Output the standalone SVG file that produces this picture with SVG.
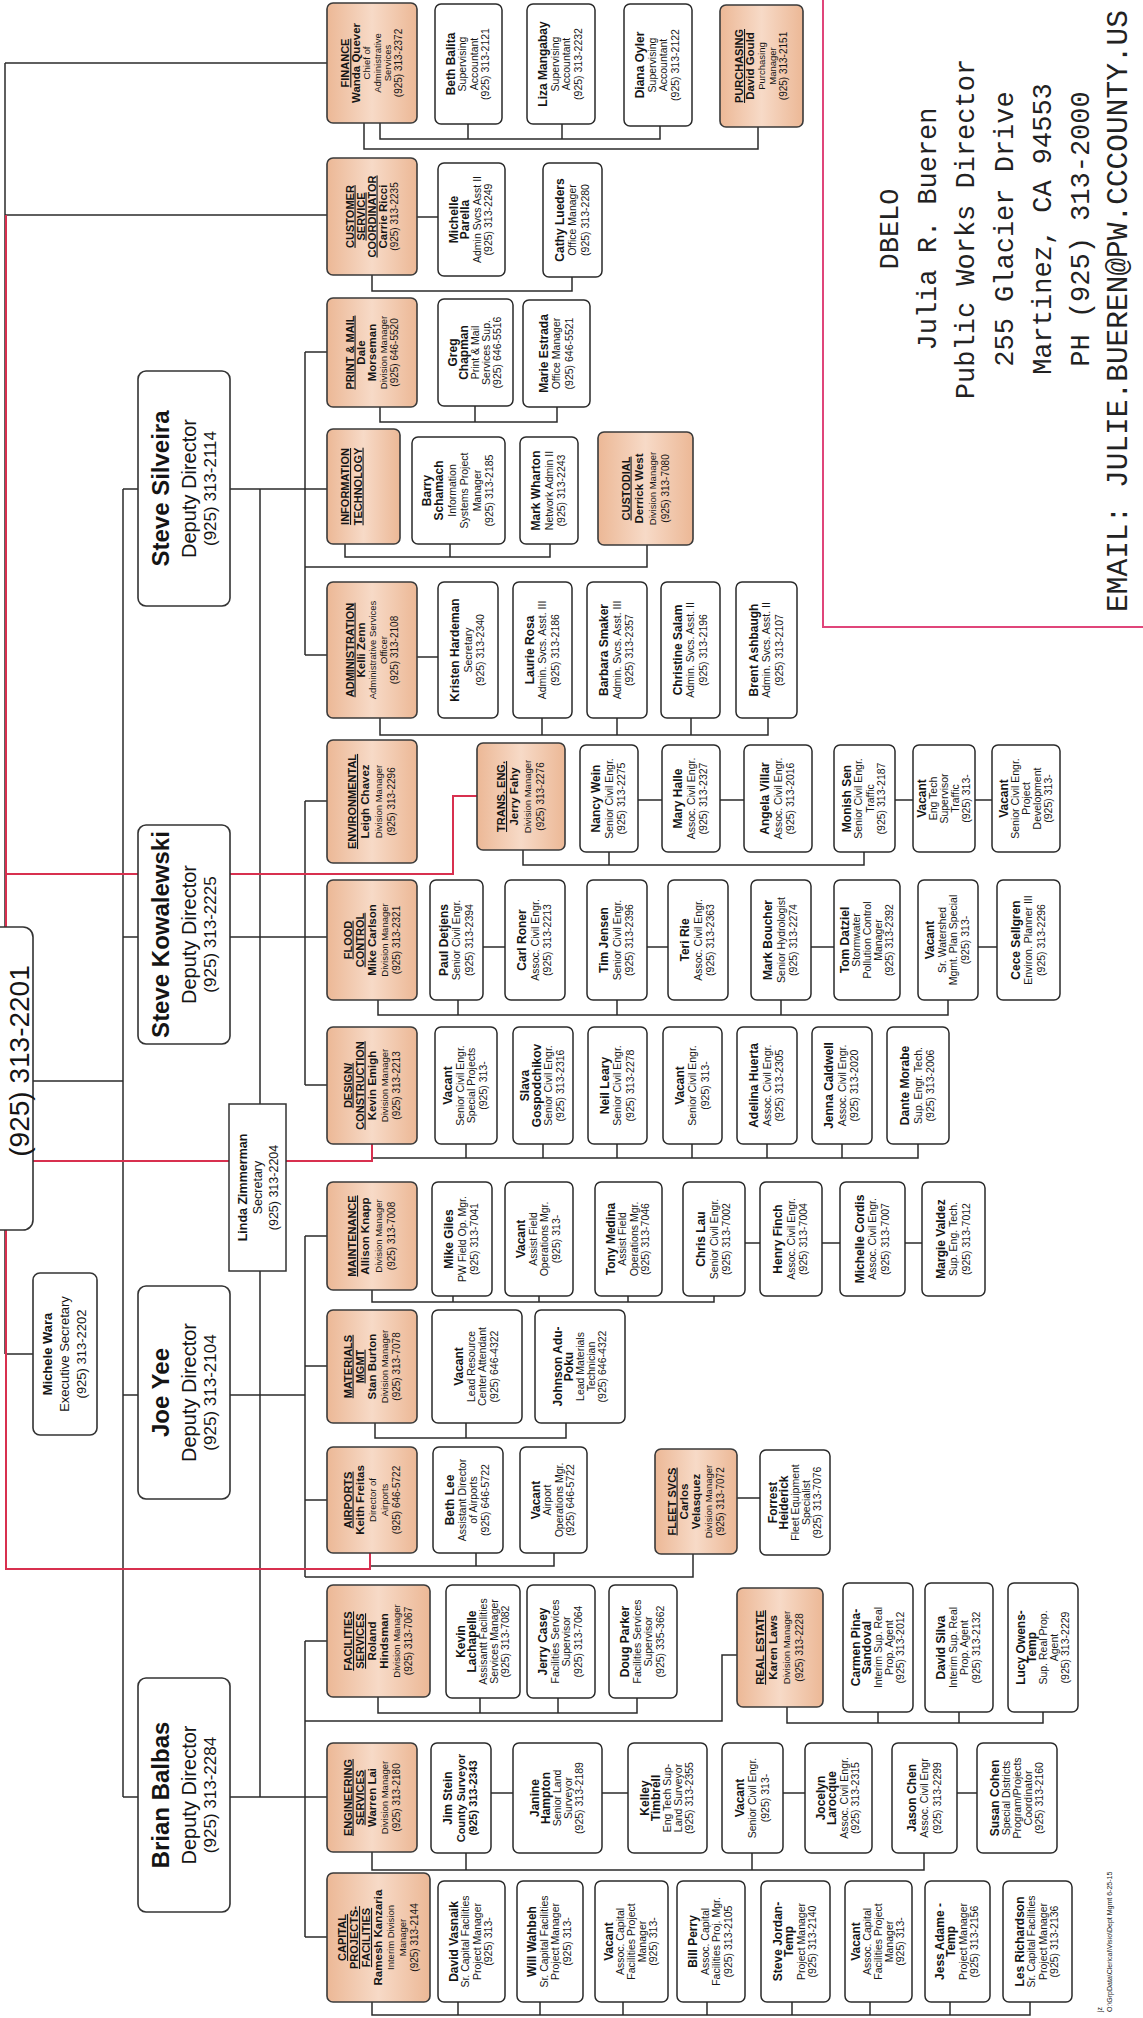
<svg xmlns="http://www.w3.org/2000/svg" width="1143" height="2018" viewBox="0 0 1143 2018">
<defs>
<linearGradient id="pg" x1="0" y1="0" x2="1" y2="0"><stop offset="0" stop-color="#ecb896"/><stop offset="0.5" stop-color="#f7dac7"/><stop offset="1" stop-color="#ecb896"/></linearGradient>
</defs>
<style>
text{font-family:"Liberation Sans",Arial,sans-serif;text-anchor:middle;fill:#151515}
.d{fill:url(#pg);stroke:#3a3a3a;stroke-width:1.6}
.s{fill:#fff;stroke:#2a2a2a;stroke-width:1.5}
.dep{fill:#fff;stroke:#333;stroke-width:1.6}
.l{fill:none;stroke:#2b2b2b;stroke-width:1.5}
.r{fill:none;stroke:#d8304f;stroke-width:2}
.t{font-weight:bold;font-size:11px;text-decoration:underline}
.n{font-weight:bold;font-size:11.5px}
.o{font-size:9.5px}
.p{font-size:10px}
.sn{font-weight:bold;font-size:12px}
.so{font-size:10.5px}
.dn{font-weight:bold;font-size:24px}
.dt{font-size:20px}
.dp{font-size:17px}
.mono{font-family:"Liberation Mono","Courier New",monospace;font-size:27px;fill:#222}
</style>
<rect width="1143" height="2018" fill="#fff"/>

<g id="connectors">
<path class="l" d="M5,63 V927 M5,1230 V1354 M5,63 H327 M5,215 H327 M5,1354 H33"/>
<path class="l" d="M33,1081 H123 M123,489 V1797 M123,489 H138 M123,937 H138 M123,1395 H138 M123,1797 H138 M260,489 V1797"/>
<path class="l" d="M230,489 H327 M305,352 V655 M305,352 H327 M305,655 H327"/>
<path class="l" d="M230,937 H327 M305,801 V1085 M305,801 H327 M305,1085 H327"/>
<path class="l" d="M230,1395 H305 M305,1236 V1577 M305,1236 H327 M305,1366 H327 M305,1500 H327"/>
<path class="l" d="M230,1797 H327 M305,1641 V1937 M305,1641 H327 M305,1937 H327"/>
<path class="l" d="M380,123 V139 H660 V126 M468,124 V139 M562,124 V139 M364,123 V149 H758 V127"/>
<path class="l" d="M372,275 V291 H572 V277 M417,217 H438"/>
<path class="l" d="M380,407 V422 H557 V407 M475,406 V422"/>
<path class="l" d="M345,544 V557 H550 V544 M450,544 V557 M305,567 H647 V545"/>
<path class="l" d="M417,657 H438 M380,718 V735 H768 V718 M542,718 V735 M617,718 V735 M691,718 V735"/>
<path class="l" d="M638,800 H662 M720,800 H744 M895,800 H913 M975,800 H992 M523,850 V865 H864 V852 M609,852 V865"/>
<path class="l" d="M483,947 H505 M647,947 H668 M811,947 H834 M978,947 H997 M378,1000 V1015 H948 V1000 M458,1000 V1015 M617,1000 V1015 M781,1000 V1015"/>
<path class="l" d="M372,1144 V1158 H918 V1144 M466,1144 V1158 M543,1144 V1158 M617,1144 V1158 M692,1144 V1158 M767,1144 V1158 M842,1144 V1158"/>
<path class="l" d="M372,1290 V1302 H714 V1296 M453,1296 V1302 M539,1296 V1302 M628,1296 V1302 M745,1243 H760 M822,1243 H840 M905,1243 H922"/>
<path class="l" d="M375,1423 V1438 H566 V1423 M466,1423 V1438"/>
<path class="l" d="M370,1553 V1566 H554 V1553 M476,1553 V1566 M305,1577 H693 V1554 M737,1498 H760"/>
<path class="l" d="M378,1697 V1713 H637 V1698 M480,1698 V1713 M558,1698 V1713 M305,1721 H722 V1655 H737 M787,1707 V1723 H1043 V1712 M878,1712 V1723 M959,1712 V1723"/>
<path class="l" d="M491,1793 H513 M602,1793 H628 M783,1793 H805 M957,1793 H977 M372,1852 V1870 H924 V1853 M466,1853 V1870 M752,1853 V1870"/>
<path class="l" d="M372,2002 V2015 H1030 V2002 M458,2002 V2015 M540,2002 V2015 M623,2002 V2015 M707,2002 V2015 M792,2002 V2015 M870,2002 V2015 M950,2002 V2015"/>
<path class="r" d="M6,927 V215 M6,874 H453 V796 H477 M33,1161 H372 V1144 M6,1230 V1569 H370 V1553"/>
</g>

<g id="director"><rect class="dep" x="-20" y="927" width="53" height="303" rx="10"/>
<text transform="translate(19,1061) rotate(-90)" y="10" style="font-size:28px">(925) 313-2201</text></g>

<g id="michele-wara"><rect class="dep" x="33" y="1273" width="64" height="162" rx="7"/>
<text transform="translate(65,1354) rotate(-90)" style="font-size:13px"><tspan x="0" y="-13" font-weight="bold">Michele Wara</tspan><tspan x="0" y="4">Executive Secretary</tspan><tspan x="0" y="21">(925) 313-2202</tspan></text></g>

<g id="steve-silveira"><rect class="dep" x="138" y="371" width="92" height="235" rx="8"/>
<text transform="translate(184,488.5) rotate(-90)"><tspan class="dn" x="0" y="-14.6">Steve Silveira</tspan><tspan class="dt" x="0" y="12">Deputy Director</tspan><tspan class="dp" x="0" y="32">(925) 313-2114</tspan></text></g>
<g id="steve-kowalewski"><rect class="dep" x="138" y="825" width="92" height="219" rx="8"/>
<text transform="translate(184,934.5) rotate(-90)"><tspan class="dn" x="0" y="-14.6">Steve Kowalewski</tspan><tspan class="dt" x="0" y="12">Deputy Director</tspan><tspan class="dp" x="0" y="32">(925) 313-2225</tspan></text></g>
<g id="joe-yee"><rect class="dep" x="138" y="1286" width="92" height="213" rx="8"/>
<text transform="translate(184,1392.5) rotate(-90)"><tspan class="dn" x="0" y="-14.6">Joe Yee</tspan><tspan class="dt" x="0" y="12">Deputy Director</tspan><tspan class="dp" x="0" y="32">(925) 313-2104</tspan></text></g>
<g id="brian-balbas"><rect class="dep" x="138" y="1678" width="92" height="234" rx="8"/>
<text transform="translate(184,1795) rotate(-90)"><tspan class="dn" x="0" y="-14.6">Brian Balbas</tspan><tspan class="dt" x="0" y="12">Deputy Director</tspan><tspan class="dp" x="0" y="32">(925) 313-2284</tspan></text></g>

<g id="linda-zimmerman"><rect x="229" y="1104" width="57" height="167" fill="#fff" stroke="#333" stroke-width="1.5"/>
<text transform="translate(257.5,1187.5) rotate(-90)" style="font-size:12.5px"><tspan x="0" y="-11" font-weight="bold">Linda Zimmerman</tspan><tspan x="0" y="4.5">Secretary</tspan><tspan x="0" y="20">(925) 313-2204</tspan></text></g>

<!-- Finance -->
<g id="finance"><rect class="d" x="327" y="3" width="90" height="120" rx="6"/>
<text transform="translate(372,63) rotate(-90)"><tspan class="t" x="0" y="-22.75">FINANCE</tspan><tspan class="n" x="0" y="-12.25">Wanda Quever</tspan><tspan class="o" x="0" y="-1.75">Chief of</tspan><tspan class="o" x="0" y="8.75">Administrative</tspan><tspan class="o" x="0" y="19.25">Services</tspan><tspan class="p" x="0" y="29.75">(925) 313-2372</tspan></text></g>
<g id="beth-balita"><rect class="s" x="435" y="4" width="67" height="120" rx="6"/>
<text transform="translate(468.5,64) rotate(-90)"><tspan class="sn" x="0" y="-13.75">Beth Balita</tspan><tspan class="so" x="0" y="-2.25">Supervising</tspan><tspan class="so" x="0" y="9.25">Accountant</tspan><tspan class="so" x="0" y="20.75">(925) 313-2121</tspan></text></g>
<g id="liza-mangabay"><rect class="s" x="527" y="4" width="68" height="120" rx="6"/>
<text transform="translate(561,64) rotate(-90)"><tspan class="sn" x="0" y="-13.75">Liza Mangabay</tspan><tspan class="so" x="0" y="-2.25">Supervising</tspan><tspan class="so" x="0" y="9.25">Accountant</tspan><tspan class="so" x="0" y="20.75">(925) 313-2232</tspan></text></g>
<g id="diana-oyler"><rect class="s" x="624" y="4" width="68" height="122" rx="6"/>
<text transform="translate(658,65) rotate(-90)"><tspan class="sn" x="0" y="-13.75">Diana Oyler</tspan><tspan class="so" x="0" y="-2.25">Supervising</tspan><tspan class="so" x="0" y="9.25">Accountant</tspan><tspan class="so" x="0" y="20.75">(925) 313-2122</tspan></text></g>
<g id="purchasing"><rect class="d" x="720" y="5" width="83" height="122" rx="6"/>
<text transform="translate(761.5,66) rotate(-90)"><tspan class="t" x="0" y="-18.5">PURCHASING</tspan><tspan class="n" x="0" y="-7.5">David Gould</tspan><tspan class="o" x="0" y="3.5">Purchasing</tspan><tspan class="o" x="0" y="14.5">Manager</tspan><tspan class="p" x="0" y="25.5">(925) 313-2151</tspan></text></g>

<!-- Customer service -->
<g id="customer-service"><rect class="d" x="327" y="158" width="90" height="117" rx="6"/>
<text transform="translate(372,216.5) rotate(-90)"><tspan class="t" x="0" y="-18.5">CUSTOMER</tspan><tspan class="t" x="0" y="-7.5">SERVICE</tspan><tspan class="t" x="0" y="3.5">COORDINATOR</tspan><tspan class="n" x="0" y="14.5">Carrie Ricci</tspan><tspan class="p" x="0" y="25.5">(925) 313-2235</tspan></text></g>
<g id="michelle-parella"><rect class="s" x="438" y="163" width="67" height="113" rx="6"/>
<text transform="translate(471.5,219.5) rotate(-90)"><tspan class="sn" x="0" y="-13.75">Michelle</tspan><tspan class="sn" x="0" y="-2.25">Parella</tspan><tspan class="so" x="0" y="9.25">Admin Svcs Asst II</tspan><tspan class="so" x="0" y="20.75">(925) 313-2249</tspan></text></g>
<g id="cathy-lueders"><rect class="s" x="543" y="163" width="59" height="114" rx="6"/>
<text transform="translate(572.5,220) rotate(-90)"><tspan class="sn" x="0" y="-9">Cathy Lueders</tspan><tspan class="so" x="0" y="3.5">Office Manager</tspan><tspan class="so" x="0" y="16">(925) 313-2280</tspan></text></g>

<!-- Print & Mail -->
<g id="print-mail"><rect class="d" x="327" y="298" width="90" height="109" rx="6"/>
<text transform="translate(372,352.5) rotate(-90)"><tspan class="t" x="0" y="-18.5">PRINT &amp; MAIL</tspan><tspan class="n" x="0" y="-7.5">Dale</tspan><tspan class="n" x="0" y="3.5">Morseman</tspan><tspan class="o" x="0" y="14.5">Division Manager</tspan><tspan class="p" x="0" y="25.5">(925) 646-5520</tspan></text></g>
<g id="greg-chapman"><rect class="s" x="438" y="299" width="75" height="107" rx="6"/>
<text transform="translate(475.5,352.5) rotate(-90)"><tspan class="sn" x="0" y="-18.5">Greg</tspan><tspan class="sn" x="0" y="-7.5">Chapman</tspan><tspan class="so" x="0" y="3.5">Print &amp; Mail</tspan><tspan class="so" x="0" y="14.5">Services Sup.</tspan><tspan class="so" x="0" y="25.5">(925) 646-5516</tspan></text></g>
<g id="marie-estrada"><rect class="s" x="523" y="300" width="67" height="107" rx="6"/>
<text transform="translate(556.5,353.5) rotate(-90)"><tspan class="sn" x="0" y="-9">Marie Estrada</tspan><tspan class="so" x="0" y="3.5">Office Manager</tspan><tspan class="so" x="0" y="16">(925) 646-5521</tspan></text></g>

<!-- IT -->
<g id="information-technology"><rect class="d" x="327" y="429" width="73" height="115" rx="6"/>
<text transform="translate(363.5,486.5) rotate(-90)"><tspan class="t" x="0" y="-14.5">INFORMATION</tspan><tspan class="t" x="0" y="-2">TECHNOLOGY</tspan></text></g>
<g id="barry-schamach"><rect class="s" x="412" y="437" width="93" height="107" rx="6"/>
<text transform="translate(458.5,490.5) rotate(-90)"><tspan class="sn" x="0" y="-27.75">Barry</tspan><tspan class="sn" x="0" y="-15.25">Schamach</tspan><tspan class="so" x="0" y="-2.75">Information</tspan><tspan class="so" x="0" y="9.75">Systems Project</tspan><tspan class="so" x="0" y="22.25">Manager</tspan><tspan class="so" x="0" y="34.75">(925) 313-2185</tspan></text></g>
<g id="mark-wharton"><rect class="s" x="520" y="437" width="58" height="107" rx="6"/>
<text transform="translate(549,490.5) rotate(-90)"><tspan class="sn" x="0" y="-9">Mark Wharton</tspan><tspan class="so" x="0" y="3.5">Network Admin II</tspan><tspan class="so" x="0" y="16">(925) 313-2243</tspan></text></g>
<g id="custodial"><rect class="d" x="598" y="432" width="95" height="113" rx="6"/>
<text transform="translate(645.5,488.5) rotate(-90)"><tspan class="t" x="0" y="-16">CUSTODIAL</tspan><tspan class="n" x="0" y="-3">Derrick West</tspan><tspan class="o" x="0" y="10">Division Manager</tspan><tspan class="p" x="0" y="23">(925) 313-7080</tspan></text></g>

<!-- Administration -->
<g id="administration"><rect class="d" x="327" y="582" width="90" height="136" rx="6"/>
<text transform="translate(372,650) rotate(-90)"><tspan class="t" x="0" y="-18.5">ADMINISTRATION</tspan><tspan class="n" x="0" y="-7.5">Kelli Zenn</tspan><tspan class="o" x="0" y="3.5">Administrative Services</tspan><tspan class="o" x="0" y="14.5">Officer</tspan><tspan class="p" x="0" y="25.5">(925) 313-2108</tspan></text></g>
<g id="kristen-hardeman"><rect class="s" x="438" y="582" width="60" height="136" rx="6"/>
<text transform="translate(468,650) rotate(-90)"><tspan class="sn" x="0" y="-9">Kristen Hardeman</tspan><tspan class="so" x="0" y="3.5">Secretary</tspan><tspan class="so" x="0" y="16">(925) 313-2340</tspan></text></g>
<g id="laurie-rosa"><rect class="s" x="513" y="582" width="59" height="136" rx="6"/>
<text transform="translate(542.5,650) rotate(-90)"><tspan class="sn" x="0" y="-9">Laurie Rosa</tspan><tspan class="so" x="0" y="3.5">Admin. Svcs. Asst. III</tspan><tspan class="so" x="0" y="16">(925) 313-2186</tspan></text></g>
<g id="barbara-smaker"><rect class="s" x="587" y="582" width="60" height="136" rx="6"/>
<text transform="translate(617,650) rotate(-90)"><tspan class="sn" x="0" y="-9">Barbara Smaker</tspan><tspan class="so" x="0" y="3.5">Admin. Svcs. Asst. III</tspan><tspan class="so" x="0" y="16">(925) 313-2357</tspan></text></g>
<g id="christine-salam"><rect class="s" x="661" y="582" width="59" height="136" rx="6"/>
<text transform="translate(690.5,650) rotate(-90)"><tspan class="sn" x="0" y="-9">Christine Salam</tspan><tspan class="so" x="0" y="3.5">Admin. Svcs. Asst. II</tspan><tspan class="so" x="0" y="16">(925) 313-2196</tspan></text></g>
<g id="brent-ashbaugh"><rect class="s" x="736" y="582" width="61" height="136" rx="6"/>
<text transform="translate(766.5,650) rotate(-90)"><tspan class="sn" x="0" y="-9">Brent Ashbaugh</tspan><tspan class="so" x="0" y="3.5">Admin. Svcs. Asst. II</tspan><tspan class="so" x="0" y="16">(925) 313-2107</tspan></text></g>

<!-- Environmental / Trans Eng -->
<g id="environmental"><rect class="d" x="327" y="740" width="90" height="123" rx="6"/>
<text transform="translate(372,801.5) rotate(-90)"><tspan class="t" x="0" y="-16">ENVIRONMENTAL</tspan><tspan class="n" x="0" y="-3">Leigh Chavez</tspan><tspan class="o" x="0" y="10">Division Manager</tspan><tspan class="p" x="0" y="23">(925) 313-2296</tspan></text></g>
<g id="trans-eng"><rect class="d" x="477" y="743" width="88" height="107" rx="6"/>
<text transform="translate(521,796.5) rotate(-90)"><tspan class="t" x="0" y="-16">TRANS. ENG.</tspan><tspan class="n" x="0" y="-3">Jerry Fahy</tspan><tspan class="o" x="0" y="10">Division Manager</tspan><tspan class="p" x="0" y="23">(925) 313-2276</tspan></text></g>
<g id="nancy-wein"><rect class="s" x="580" y="745" width="58" height="107" rx="6"/>
<text transform="translate(609,798.5) rotate(-90)"><tspan class="sn" x="0" y="-9">Nancy Wein</tspan><tspan class="so" x="0" y="3.5">Senior Civil Engr.</tspan><tspan class="so" x="0" y="16">(925) 313-2275</tspan></text></g>
<g id="mary-halle"><rect class="s" x="662" y="745" width="58" height="107" rx="6"/>
<text transform="translate(691,798.5) rotate(-90)"><tspan class="sn" x="0" y="-9">Mary Halle</tspan><tspan class="so" x="0" y="3.5">Assoc. Civil Engr.</tspan><tspan class="so" x="0" y="16">(925) 313-2327</tspan></text></g>
<g id="angela-villar"><rect class="s" x="744" y="745" width="68" height="107" rx="6"/>
<text transform="translate(778,798.5) rotate(-90)"><tspan class="sn" x="0" y="-9">Angela Villar</tspan><tspan class="so" x="0" y="3.5">Assoc. Civil Engr.</tspan><tspan class="so" x="0" y="16">(925) 313-2016</tspan></text></g>
<g id="monish-sen"><rect class="s" x="834" y="745" width="61" height="107" rx="6"/>
<text transform="translate(864.5,798.5) rotate(-90)"><tspan class="sn" x="0" y="-13.75">Monish Sen</tspan><tspan class="so" x="0" y="-2.25">Senior Civil Engr.</tspan><tspan class="so" x="0" y="9.25">Traffic</tspan><tspan class="so" x="0" y="20.75">(925) 313-2187</tspan></text></g>
<g id="vacant-eng-tech"><rect class="s" x="913" y="745" width="62" height="107" rx="6"/>
<text transform="translate(944,798.5) rotate(-90)"><tspan class="sn" x="0" y="-18.5">Vacant</tspan><tspan class="so" x="0" y="-7.5">Eng Tech</tspan><tspan class="so" x="0" y="3.5">Supervisor</tspan><tspan class="so" x="0" y="14.5">Traffic</tspan><tspan class="so" x="0" y="25.5">(925) 313-</tspan></text></g>
<g id="vacant-proj-dev"><rect class="s" x="992" y="745" width="68" height="107" rx="6"/>
<text transform="translate(1026,798.5) rotate(-90)"><tspan class="sn" x="0" y="-18.5">Vacant</tspan><tspan class="so" x="0" y="-7.5">Senior Civil Engr.</tspan><tspan class="so" x="0" y="3.5">Project</tspan><tspan class="so" x="0" y="14.5">Development</tspan><tspan class="so" x="0" y="25.5">(925) 313-</tspan></text></g>

<!-- Flood control -->
<g id="flood-control"><rect class="d" x="327" y="880" width="90" height="120" rx="6"/>
<text transform="translate(372,940) rotate(-90)"><tspan class="t" x="0" y="-20.5">FLOOD</tspan><tspan class="t" x="0" y="-8.5">CONTROL</tspan><tspan class="n" x="0" y="3.5">Mike Carlson</tspan><tspan class="o" x="0" y="15.5">Division Manager</tspan><tspan class="p" x="0" y="27.5">(925) 313-2321</tspan></text></g>
<g id="paul-detjens"><rect class="s" x="430" y="880" width="53" height="120" rx="6"/>
<text transform="translate(456.5,940) rotate(-90)"><tspan class="sn" x="0" y="-9">Paul Detjens</tspan><tspan class="so" x="0" y="3.5">Senior Civil Engr.</tspan><tspan class="so" x="0" y="16">(925) 313-2394</tspan></text></g>
<g id="carl-roner"><rect class="s" x="505" y="880" width="60" height="120" rx="6"/>
<text transform="translate(535,940) rotate(-90)"><tspan class="sn" x="0" y="-9">Carl Roner</tspan><tspan class="so" x="0" y="3.5">Assoc. Civil Engr.</tspan><tspan class="so" x="0" y="16">(925) 313-2213</tspan></text></g>
<g id="tim-jensen"><rect class="s" x="587" y="880" width="60" height="120" rx="6"/>
<text transform="translate(617,940) rotate(-90)"><tspan class="sn" x="0" y="-9">Tim Jensen</tspan><tspan class="so" x="0" y="3.5">Senior Civil Engr.</tspan><tspan class="so" x="0" y="16">(925) 313-2396</tspan></text></g>
<g id="teri-rie"><rect class="s" x="668" y="880" width="60" height="120" rx="6"/>
<text transform="translate(698,940) rotate(-90)"><tspan class="sn" x="0" y="-9">Teri Rie</tspan><tspan class="so" x="0" y="3.5">Assoc. Civil Engr.</tspan><tspan class="so" x="0" y="16">(925) 313-2363</tspan></text></g>
<g id="mark-boucher"><rect class="s" x="751" y="880" width="60" height="120" rx="6"/>
<text transform="translate(781,940) rotate(-90)"><tspan class="sn" x="0" y="-9">Mark Boucher</tspan><tspan class="so" x="0" y="3.5">Senior Hydrologist</tspan><tspan class="so" x="0" y="16">(925) 313-2274</tspan></text></g>
<g id="tom-datziel"><rect class="s" x="834" y="880" width="66" height="120" rx="6"/>
<text transform="translate(867,940) rotate(-90)"><tspan class="sn" x="0" y="-18.5">Tom Datziel</tspan><tspan class="so" x="0" y="-7.5">Stormwater</tspan><tspan class="so" x="0" y="3.5">Pollution Control</tspan><tspan class="so" x="0" y="14.5">Manager</tspan><tspan class="so" x="0" y="25.5">(925) 313-2392</tspan></text></g>
<g id="vacant-watershed"><rect class="s" x="918" y="880" width="60" height="120" rx="6"/>
<text transform="translate(948,940) rotate(-90)"><tspan class="sn" x="0" y="-13.75">Vacant</tspan><tspan class="so" x="0" y="-2.25">Sr. Watershed</tspan><tspan class="so" x="0" y="9.25">Mgmt. Plan Special</tspan><tspan class="so" x="0" y="20.75">(925) 313-</tspan></text></g>
<g id="cece-sellgren"><rect class="s" x="997" y="880" width="63" height="120" rx="6"/>
<text transform="translate(1028.5,940) rotate(-90)"><tspan class="sn" x="0" y="-9">Cece Sellgren</tspan><tspan class="so" x="0" y="3.5">Environ. Planner III</tspan><tspan class="so" x="0" y="16">(925) 313-2296</tspan></text></g>

<!-- Design / Construction -->
<g id="design-construction"><rect class="d" x="327" y="1027" width="90" height="117" rx="6"/>
<text transform="translate(372,1085.5) rotate(-90)"><tspan class="t" x="0" y="-20.5">DESIGN/</tspan><tspan class="t" x="0" y="-8.5">CONSTRUCTION</tspan><tspan class="n" x="0" y="3.5">Kevin Emigh</tspan><tspan class="o" x="0" y="15.5">Division Manager</tspan><tspan class="p" x="0" y="27.5">(925) 313-2213</tspan></text></g>
<g id="vacant-special"><rect class="s" x="435" y="1027" width="62" height="117" rx="6"/>
<text transform="translate(466,1085.5) rotate(-90)"><tspan class="sn" x="0" y="-13.75">Vacant</tspan><tspan class="so" x="0" y="-2.25">Senior Civil Engr.</tspan><tspan class="so" x="0" y="9.25">Special Projects</tspan><tspan class="so" x="0" y="20.75">(925) 313-</tspan></text></g>
<g id="slava-gospodchikov"><rect class="s" x="513" y="1027" width="60" height="117" rx="6"/>
<text transform="translate(543,1085.5) rotate(-90)"><tspan class="sn" x="0" y="-13.75">Slava</tspan><tspan class="sn" x="0" y="-2.25">Gospodchikov</tspan><tspan class="so" x="0" y="9.25">Senior Civil Engr.</tspan><tspan class="so" x="0" y="20.75">(925) 313-2316</tspan></text></g>
<g id="neil-leary"><rect class="s" x="588" y="1027" width="59" height="117" rx="6"/>
<text transform="translate(617.5,1085.5) rotate(-90)"><tspan class="sn" x="0" y="-9">Neil Leary</tspan><tspan class="so" x="0" y="3.5">Senior Civil Engr.</tspan><tspan class="so" x="0" y="16">(925) 313-2278</tspan></text></g>
<g id="vacant-sce"><rect class="s" x="663" y="1027" width="59" height="117" rx="6"/>
<text transform="translate(692.5,1085.5) rotate(-90)"><tspan class="sn" x="0" y="-9">Vacant</tspan><tspan class="so" x="0" y="3.5">Senior Civil Engr.</tspan><tspan class="so" x="0" y="16">(925) 313-</tspan></text></g>
<g id="adelina-huerta"><rect class="s" x="737" y="1027" width="60" height="117" rx="6"/>
<text transform="translate(767,1085.5) rotate(-90)"><tspan class="sn" x="0" y="-9">Adelina Huerta</tspan><tspan class="so" x="0" y="3.5">Assoc. Civil Engr.</tspan><tspan class="so" x="0" y="16">(925) 313-2305</tspan></text></g>
<g id="jenna-caldwell"><rect class="s" x="812" y="1027" width="60" height="117" rx="6"/>
<text transform="translate(842,1085.5) rotate(-90)"><tspan class="sn" x="0" y="-9">Jenna Caldwell</tspan><tspan class="so" x="0" y="3.5">Assoc. Civil Engr.</tspan><tspan class="so" x="0" y="16">(925) 313-2020</tspan></text></g>
<g id="dante-morabe"><rect class="s" x="887" y="1027" width="62" height="117" rx="6"/>
<text transform="translate(918,1085.5) rotate(-90)"><tspan class="sn" x="0" y="-9">Dante Morabe</tspan><tspan class="so" x="0" y="3.5">Sup. Engr. Tech.</tspan><tspan class="so" x="0" y="16">(925) 313-2006</tspan></text></g>

<!-- Maintenance -->
<g id="maintenance"><rect class="d" x="327" y="1182" width="90" height="108" rx="6"/>
<text transform="translate(372,1236) rotate(-90)"><tspan class="t" x="0" y="-16">MAINTENANCE</tspan><tspan class="n" x="0" y="-3">Allison Knapp</tspan><tspan class="o" x="0" y="10">Division Manager</tspan><tspan class="p" x="0" y="23">(925) 313-7008</tspan></text></g>
<g id="mike-giles"><rect class="s" x="432" y="1182" width="60" height="114" rx="6"/>
<text transform="translate(462,1239) rotate(-90)"><tspan class="sn" x="0" y="-9">Mike Giles</tspan><tspan class="so" x="0" y="3.5">PW Field Op. Mgr.</tspan><tspan class="so" x="0" y="16">(925) 313-7041</tspan></text></g>
<g id="vacant-afom"><rect class="s" x="505" y="1182" width="68" height="114" rx="6"/>
<text transform="translate(539,1239) rotate(-90)"><tspan class="sn" x="0" y="-13.75">Vacant</tspan><tspan class="so" x="0" y="-2.25">Assist Field</tspan><tspan class="so" x="0" y="9.25">Operations Mgr.</tspan><tspan class="so" x="0" y="20.75">(925) 313-</tspan></text></g>
<g id="tony-medina"><rect class="s" x="595" y="1182" width="67" height="114" rx="6"/>
<text transform="translate(628.5,1239) rotate(-90)"><tspan class="sn" x="0" y="-13.75">Tony Medina</tspan><tspan class="so" x="0" y="-2.25">Assist Field</tspan><tspan class="so" x="0" y="9.25">Operations Mgr.</tspan><tspan class="so" x="0" y="20.75">(925) 313-7046</tspan></text></g>
<g id="chris-lau"><rect class="s" x="683" y="1182" width="62" height="114" rx="6"/>
<text transform="translate(714,1239) rotate(-90)"><tspan class="sn" x="0" y="-9">Chris Lau</tspan><tspan class="so" x="0" y="3.5">Senior Civil Engr.</tspan><tspan class="so" x="0" y="16">(925) 313-7002</tspan></text></g>
<g id="henry-finch"><rect class="s" x="760" y="1182" width="62" height="114" rx="6"/>
<text transform="translate(791,1239) rotate(-90)"><tspan class="sn" x="0" y="-9">Henry Finch</tspan><tspan class="so" x="0" y="3.5">Assoc. Civil Engr.</tspan><tspan class="so" x="0" y="16">(925) 313-7004</tspan></text></g>
<g id="michelle-cordis"><rect class="s" x="840" y="1182" width="65" height="114" rx="6"/>
<text transform="translate(872.5,1239) rotate(-90)"><tspan class="sn" x="0" y="-9">Michelle Cordis</tspan><tspan class="so" x="0" y="3.5">Assoc. Civil Engr.</tspan><tspan class="so" x="0" y="16">(925) 313-7007</tspan></text></g>
<g id="margie-valdez"><rect class="s" x="922" y="1182" width="63" height="114" rx="6"/>
<text transform="translate(953.5,1239) rotate(-90)"><tspan class="sn" x="0" y="-9">Margie Valdez</tspan><tspan class="so" x="0" y="3.5">Sup. Eng. Tech.</tspan><tspan class="so" x="0" y="16">(925) 313-7012</tspan></text></g>

<!-- Materials -->
<g id="materials-mgmt"><rect class="d" x="327" y="1310" width="90" height="113" rx="6"/>
<text transform="translate(372,1366.5) rotate(-90)"><tspan class="t" x="0" y="-20.5">MATERIALS</tspan><tspan class="t" x="0" y="-8.5">MGMT</tspan><tspan class="n" x="0" y="3.5">Stan Burton</tspan><tspan class="o" x="0" y="15.5">Division Manager</tspan><tspan class="p" x="0" y="27.5">(925) 313-7078</tspan></text></g>
<g id="vacant-lead-resource"><rect class="s" x="432" y="1310" width="90" height="113" rx="6"/>
<text transform="translate(477,1366.5) rotate(-90)"><tspan class="sn" x="0" y="-13.75">Vacant</tspan><tspan class="so" x="0" y="-2.25">Lead Resource</tspan><tspan class="so" x="0" y="9.25">Center Attendant</tspan><tspan class="so" x="0" y="20.75">(925) 646-4322</tspan></text></g>
<g id="johnson-adu-poku"><rect class="s" x="535" y="1310" width="90" height="113" rx="6"/>
<text transform="translate(580,1366.5) rotate(-90)"><tspan class="sn" x="0" y="-18.5">Johnson Adu-</tspan><tspan class="sn" x="0" y="-7.5">Poku</tspan><tspan class="so" x="0" y="3.5">Lead Materials</tspan><tspan class="so" x="0" y="14.5">Technician</tspan><tspan class="so" x="0" y="25.5">(925) 646-4322</tspan></text></g>

<!-- Airports / Fleet -->
<g id="airports"><rect class="d" x="327" y="1447" width="90" height="106" rx="6"/>
<text transform="translate(372,1500) rotate(-90)"><tspan class="t" x="0" y="-20.5">AIRPORTS</tspan><tspan class="n" x="0" y="-8.5">Keith Freitas</tspan><tspan class="o" x="0" y="3.5">Director of</tspan><tspan class="o" x="0" y="15.5">Airports</tspan><tspan class="p" x="0" y="27.5">(925) 646-5722</tspan></text></g>
<g id="beth-lee"><rect class="s" x="433" y="1447" width="70" height="106" rx="6"/>
<text transform="translate(468,1500) rotate(-90)"><tspan class="sn" x="0" y="-13.75">Beth Lee</tspan><tspan class="so" x="0" y="-2.25">Assistant Director</tspan><tspan class="so" x="0" y="9.25">of Airports</tspan><tspan class="so" x="0" y="20.75">(925) 646-5722</tspan></text></g>
<g id="vacant-airport-ops"><rect class="s" x="520" y="1447" width="67" height="106" rx="6"/>
<text transform="translate(553.5,1500) rotate(-90)"><tspan class="sn" x="0" y="-13.75">Vacant</tspan><tspan class="so" x="0" y="-2.25">Airport</tspan><tspan class="so" x="0" y="9.25">Operations Mgr.</tspan><tspan class="so" x="0" y="20.75">(925) 646-5722</tspan></text></g>
<g id="fleet-svcs"><rect class="d" x="655" y="1449" width="82" height="105" rx="6"/>
<text transform="translate(696,1501.5) rotate(-90)"><tspan class="t" x="0" y="-20.5">FLEET SVCS</tspan><tspan class="n" x="0" y="-8.5">Carlos</tspan><tspan class="n" x="0" y="3.5">Velasquez</tspan><tspan class="o" x="0" y="15.5">Division Manager</tspan><tspan class="p" x="0" y="27.5">(925) 313-7072</tspan></text></g>
<g id="forrest-heiderick"><rect class="s" x="760" y="1450" width="70" height="105" rx="6"/>
<text transform="translate(795,1502.5) rotate(-90)"><tspan class="sn" x="0" y="-18.5">Forrest</tspan><tspan class="sn" x="0" y="-7.5">Heiderick</tspan><tspan class="so" x="0" y="3.5">Fleet Equipment</tspan><tspan class="so" x="0" y="14.5">Specialist</tspan><tspan class="so" x="0" y="25.5">(925) 313-7076</tspan></text></g>

<!-- Facilities / Real estate -->
<g id="facilities-services"><rect class="d" x="327" y="1585" width="103" height="112" rx="6"/>
<text transform="translate(378.5,1641) rotate(-90)"><tspan class="t" x="0" y="-26.5">FACILITIES</tspan><tspan class="t" x="0" y="-14.5">SERVICES</tspan><tspan class="n" x="0" y="-2.5">Roland</tspan><tspan class="n" x="0" y="9.5">Hindsman</tspan><tspan class="o" x="0" y="21.5">Division Manager</tspan><tspan class="p" x="0" y="33.5">(925) 313-7067</tspan></text></g>
<g id="kevin-lachapelle"><rect class="s" x="446" y="1585" width="74" height="113" rx="6"/>
<text transform="translate(483,1641.5) rotate(-90)"><tspan class="sn" x="0" y="-18.5">Kevin</tspan><tspan class="sn" x="0" y="-7.5">Lachapelle</tspan><tspan class="so" x="0" y="3.5">Assisantt Facilities</tspan><tspan class="so" x="0" y="14.5">Services Manager</tspan><tspan class="so" x="0" y="25.5">(925) 313-7082</tspan></text></g>
<g id="jerry-casey"><rect class="s" x="527" y="1585" width="68" height="113" rx="6"/>
<text transform="translate(561,1641.5) rotate(-90)"><tspan class="sn" x="0" y="-13.75">Jerry Casey</tspan><tspan class="so" x="0" y="-2.25">Facilities Services</tspan><tspan class="so" x="0" y="9.25">Supervisor</tspan><tspan class="so" x="0" y="20.75">(925) 313-7064</tspan></text></g>
<g id="doug-parker"><rect class="s" x="609" y="1585" width="68" height="113" rx="6"/>
<text transform="translate(643,1641.5) rotate(-90)"><tspan class="sn" x="0" y="-13.75">Doug Parker</tspan><tspan class="so" x="0" y="-2.25">Facilities Services</tspan><tspan class="so" x="0" y="9.25">Supervisor</tspan><tspan class="so" x="0" y="20.75">(925) 335-3662</tspan></text></g>
<g id="real-estate"><rect class="d" x="737" y="1588" width="86" height="119" rx="6"/>
<text transform="translate(780,1647.5) rotate(-90)"><tspan class="t" x="0" y="-16">REAL ESTATE</tspan><tspan class="n" x="0" y="-3">Karen Laws</tspan><tspan class="o" x="0" y="10">Division Manager</tspan><tspan class="p" x="0" y="23">(925) 313-2228</tspan></text></g>
<g id="carmen-pina-sandoval"><rect class="s" x="843" y="1583" width="70" height="129" rx="6"/>
<text transform="translate(878,1647.5) rotate(-90)"><tspan class="sn" x="0" y="-18.5">Carmen Pina-</tspan><tspan class="sn" x="0" y="-7.5">Sandoval</tspan><tspan class="so" x="0" y="3.5">Interim Sup. Real</tspan><tspan class="so" x="0" y="14.5">Prop. Agent</tspan><tspan class="so" x="0" y="25.5">(925) 313-2012</tspan></text></g>
<g id="david-silva"><rect class="s" x="925" y="1583" width="68" height="129" rx="6"/>
<text transform="translate(959,1647.5) rotate(-90)"><tspan class="sn" x="0" y="-13.75">David Silva</tspan><tspan class="so" x="0" y="-2.25">Interim Sup. Real</tspan><tspan class="so" x="0" y="9.25">Prop. Agent</tspan><tspan class="so" x="0" y="20.75">(925) 313-2132</tspan></text></g>
<g id="lucy-owens-temp"><rect class="s" x="1008" y="1583" width="70" height="129" rx="6"/>
<text transform="translate(1043,1647.5) rotate(-90)"><tspan class="sn" x="0" y="-18.5">Lucy Owens-</tspan><tspan class="sn" x="0" y="-7.5">Temp</tspan><tspan class="so" x="0" y="3.5">Sup. Real Prop.</tspan><tspan class="so" x="0" y="14.5">Agent</tspan><tspan class="so" x="0" y="25.5">(925) 313-2229</tspan></text></g>

<!-- Engineering services -->
<g id="engineering-services"><rect class="d" x="327" y="1743" width="90" height="109" rx="6"/>
<text transform="translate(372,1797.5) rotate(-90)"><tspan class="t" x="0" y="-20.5">ENGINEERING</tspan><tspan class="t" x="0" y="-8.5">SERVICES</tspan><tspan class="n" x="0" y="3.5">Warren Lai</tspan><tspan class="o" x="0" y="15.5">Division Manager</tspan><tspan class="p" x="0" y="27.5">(925) 313-2180</tspan></text></g>
<g id="jim-stein"><rect class="s" x="431" y="1743" width="60" height="110" rx="6"/>
<text transform="translate(461,1798) rotate(-90)"><tspan class="sn" x="0" y="-9">Jim Stein</tspan><tspan class="sn" x="0" y="3.5" style="font-size:11px">County Surveyor</tspan><tspan class="sn" x="0" y="16" style="font-size:11px">(925) 313-2343</tspan></text></g>
<g id="janine-hampton"><rect class="s" x="513" y="1743" width="89" height="110" rx="6"/>
<text transform="translate(557.5,1798) rotate(-90)"><tspan class="sn" x="0" y="-18.5">Janine</tspan><tspan class="sn" x="0" y="-7.5">Hampton</tspan><tspan class="so" x="0" y="3.5">Senior Land</tspan><tspan class="so" x="0" y="14.5">Surveyor</tspan><tspan class="so" x="0" y="25.5">(925) 313-2189</tspan></text></g>
<g id="kelley-timbrell"><rect class="s" x="628" y="1743" width="79" height="110" rx="6"/>
<text transform="translate(667.5,1798) rotate(-90)"><tspan class="sn" x="0" y="-18.5">Kelley</tspan><tspan class="sn" x="0" y="-7.5">Timbrell</tspan><tspan class="so" x="0" y="3.5">Eng Tech Sup-</tspan><tspan class="so" x="0" y="14.5">Land Surveyor</tspan><tspan class="so" x="0" y="25.5">(925) 313-2355</tspan></text></g>
<g id="vacant-eng"><rect class="s" x="722" y="1743" width="61" height="110" rx="6"/>
<text transform="translate(752.5,1798) rotate(-90)"><tspan class="sn" x="0" y="-9">Vacant</tspan><tspan class="so" x="0" y="3.5">Senior Civil Engr.</tspan><tspan class="so" x="0" y="16">(925) 313-</tspan></text></g>
<g id="jocelyn-larocque"><rect class="s" x="805" y="1743" width="67" height="110" rx="6"/>
<text transform="translate(838.5,1798) rotate(-90)"><tspan class="sn" x="0" y="-13.75">Jocelyn</tspan><tspan class="sn" x="0" y="-2.25">Larocque</tspan><tspan class="so" x="0" y="9.25">Assoc. Civil Engr.</tspan><tspan class="so" x="0" y="20.75">(925) 313-2315</tspan></text></g>
<g id="jason-chen"><rect class="s" x="892" y="1743" width="65" height="110" rx="6"/>
<text transform="translate(924.5,1798) rotate(-90)"><tspan class="sn" x="0" y="-9">Jason Chen</tspan><tspan class="so" x="0" y="3.5">Assoc. Civil Engr</tspan><tspan class="so" x="0" y="16">(925) 313-2299</tspan></text></g>
<g id="susan-cohen"><rect class="s" x="977" y="1743" width="80" height="110" rx="6"/>
<text transform="translate(1017,1798) rotate(-90)"><tspan class="sn" x="0" y="-18.5">Susan Cohen</tspan><tspan class="so" x="0" y="-7.5">Special Districts</tspan><tspan class="so" x="0" y="3.5">Program/Projects</tspan><tspan class="so" x="0" y="14.5">Coordinator</tspan><tspan class="so" x="0" y="25.5">(925) 313-2160</tspan></text></g>

<!-- Capital projects -->
<g id="capital-projects"><rect class="d" x="327" y="1873" width="103" height="129" rx="6"/>
<text transform="translate(378.5,1937.5) rotate(-90)"><tspan class="t" x="0" y="-32.5">CAPITAL</tspan><tspan class="t" x="0" y="-20.5">PROJECTS-</tspan><tspan class="t" x="0" y="-8.5">FACILITIES</tspan><tspan class="n" x="0" y="3.5">Ramesh Kanzaria</tspan><tspan class="o" x="0" y="15.5">Interim Division</tspan><tspan class="o" x="0" y="27.5">Manager</tspan><tspan class="p" x="0" y="39.5">(925) 313-2144</tspan></text></g>
<g id="david-vasnaik"><rect class="s" x="438" y="1881" width="67" height="121" rx="6"/>
<text transform="translate(471.5,1941.5) rotate(-90)"><tspan class="sn" x="0" y="-13.75">David Vasnaik</tspan><tspan class="so" x="0" y="-2.25">Sr. Capital Facilities</tspan><tspan class="so" x="0" y="9.25">Project Manager</tspan><tspan class="so" x="0" y="20.75">(925) 313-</tspan></text></g>
<g id="will-wahbeh"><rect class="s" x="517" y="1881" width="66" height="121" rx="6"/>
<text transform="translate(550,1941.5) rotate(-90)"><tspan class="sn" x="0" y="-13.75">Will Wahbeh</tspan><tspan class="so" x="0" y="-2.25">Sr. Capital Facilities</tspan><tspan class="so" x="0" y="9.25">Project Manager</tspan><tspan class="so" x="0" y="20.75">(925) 313-</tspan></text></g>
<g id="vacant-cap-1"><rect class="s" x="595" y="1881" width="73" height="121" rx="6"/>
<text transform="translate(631.5,1941.5) rotate(-90)"><tspan class="sn" x="0" y="-18.5">Vacant</tspan><tspan class="so" x="0" y="-7.5">Assoc. Capital</tspan><tspan class="so" x="0" y="3.5">Facilities Project</tspan><tspan class="so" x="0" y="14.5">Manager</tspan><tspan class="so" x="0" y="25.5">(925) 313-</tspan></text></g>
<g id="bill-perry"><rect class="s" x="677" y="1881" width="68" height="121" rx="6"/>
<text transform="translate(711,1941.5) rotate(-90)"><tspan class="sn" x="0" y="-13.75">Bill Perry</tspan><tspan class="so" x="0" y="-2.25">Assoc. Capital</tspan><tspan class="so" x="0" y="9.25">Facilities Proj. Mgr.</tspan><tspan class="so" x="0" y="20.75">(925) 313-2105</tspan></text></g>
<g id="steve-jordan-temp"><rect class="s" x="761" y="1881" width="69" height="121" rx="6"/>
<text transform="translate(795.5,1941.5) rotate(-90)"><tspan class="sn" x="0" y="-13.75">Steve Jordan-</tspan><tspan class="sn" x="0" y="-2.25">Temp</tspan><tspan class="so" x="0" y="9.25">Project Manager</tspan><tspan class="so" x="0" y="20.75">(925) 313-2140</tspan></text></g>
<g id="vacant-cap-2"><rect class="s" x="845" y="1881" width="67" height="121" rx="6"/>
<text transform="translate(878.5,1941.5) rotate(-90)"><tspan class="sn" x="0" y="-18.5">Vacant</tspan><tspan class="so" x="0" y="-7.5">Assoc. Capital</tspan><tspan class="so" x="0" y="3.5">Facilities Project</tspan><tspan class="so" x="0" y="14.5">Manager</tspan><tspan class="so" x="0" y="25.5">(925) 313-</tspan></text></g>
<g id="jess-adame-temp"><rect class="s" x="925" y="1881" width="65" height="121" rx="6"/>
<text transform="translate(957.5,1941.5) rotate(-90)"><tspan class="sn" x="0" y="-13.75">Jess Adame -</tspan><tspan class="sn" x="0" y="-2.25">Temp</tspan><tspan class="so" x="0" y="9.25">Project Manager</tspan><tspan class="so" x="0" y="20.75">(925) 313-2156</tspan></text></g>
<g id="les-richardson"><rect class="s" x="1003" y="1881" width="69" height="121" rx="6"/>
<text transform="translate(1037.5,1941.5) rotate(-90)"><tspan class="sn" x="0" y="-13.75">Les Richardson</tspan><tspan class="so" x="0" y="-2.25">Sr. Capital Facilities</tspan><tspan class="so" x="0" y="9.25">Project Manager</tspan><tspan class="so" x="0" y="20.75">(925) 313-2136</tspan></text></g>

<!-- Address block -->
<g id="address-block"><rect x="823" y="-10" width="340" height="637" fill="#fff" stroke="#e0457a" stroke-width="2"/>
<text class="mono" transform="translate(888,229) rotate(-90)" y="9.5">DBELO</text>
<text class="mono" transform="translate(926,229) rotate(-90)" y="9.5">Julia R. Bueren</text>
<text class="mono" transform="translate(964,229) rotate(-90)" y="9.5">Public Works Director</text>
<text class="mono" transform="translate(1003,229) rotate(-90)" y="9.5">255 Glacier Drive</text>
<text class="mono" transform="translate(1041,229) rotate(-90)" y="9.5">Martinez, CA 94553</text>
<text class="mono" transform="translate(1079,229) rotate(-90)" y="9.5">PH (925) 313-2000</text>
<text class="mono" transform="translate(1117,311) rotate(-90)" y="10" style="font-size:29.5px">EMAIL: JULIE.BUEREN@PW.CCCOUNTY.US</text>
</g>

<g id="footer">
<text transform="translate(1102,2012) rotate(-90)" style="font-size:7px;text-anchor:start">jz</text>
<text transform="translate(1112,2012) rotate(-90)" style="font-size:7px;text-anchor:start">O:\GrpData\Clerical\Visio\Dept Mgmt 6-25-15</text>
</g>
</svg>
